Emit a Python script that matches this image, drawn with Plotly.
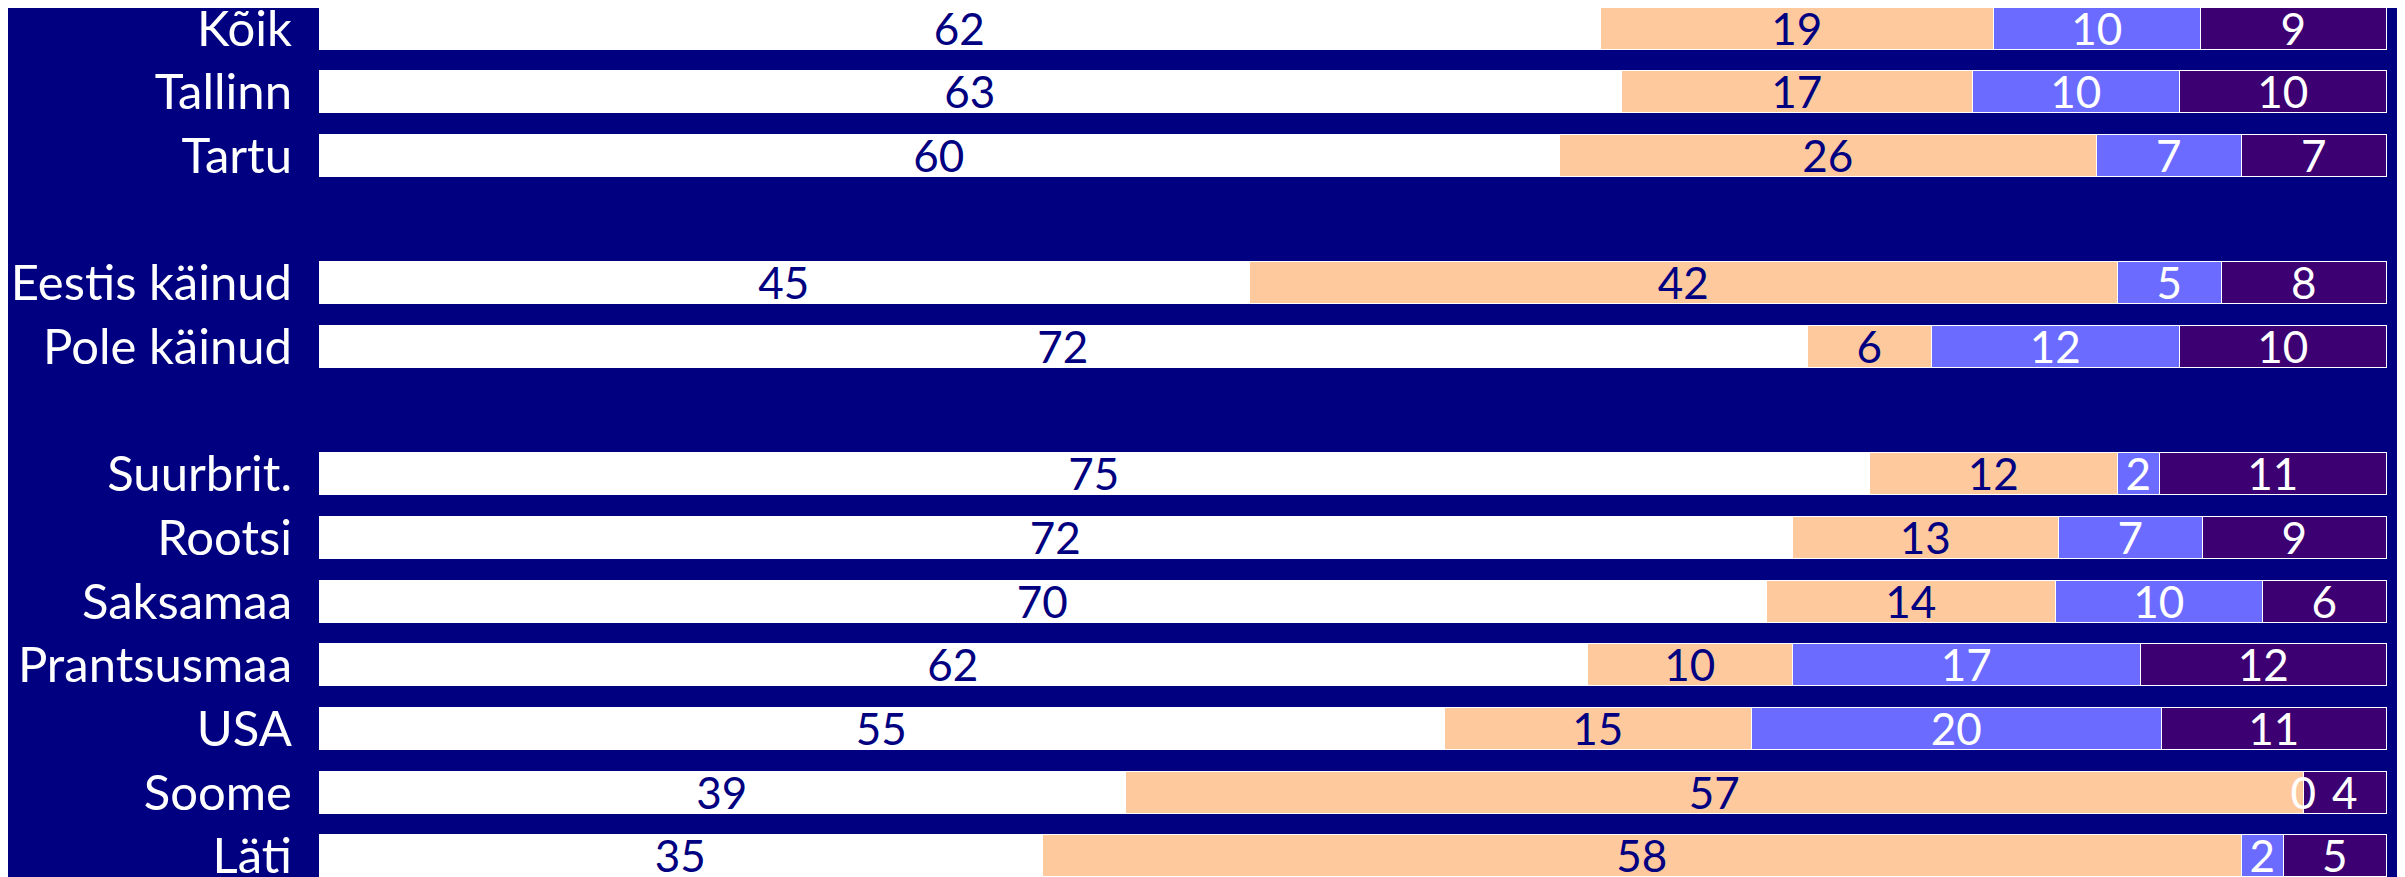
import plotly.graph_objects as go

categories = ["Kõik", "Tallinn", "Tartu", " ", "Eestis käinud", "Pole käinud", "  ",
              "Suurbrit.", "Rootsi", "Saksamaa", "Prantsusmaa", "USA", "Soome", "Läti"]
bar_categories = ["Kõik", "Tallinn", "Tartu", "Eestis käinud", "Pole käinud",
                  "Suurbrit.", "Rootsi", "Saksamaa", "Prantsusmaa", "USA", "Soome", "Läti"]
series1 = [62, 63, 60, 45, 72, 75, 72, 70, 62, 55, 39, 35]
series2 = [19, 17, 26, 42, 6, 12, 13, 14, 10, 15, 57, 58]
series3 = [10, 10, 7, 5, 12, 2, 7, 10, 17, 20, 0, 2]
series4 = [9, 10, 7, 8, 10, 11, 9, 6, 12, 11, 4, 5]

BG = "#000080"
colors = ["#FFFFFF", "#FFC99E", "#6B6BFF", "#3D0073"]
text_colors = [BG, BG, "#FFFFFF", "#FFFFFF"]
zorders = [0, 0, 1, 0]

fig = go.Figure()
for vals, col, tcol, z in zip([series1, series2, series3, series4], colors, text_colors, zorders):
    fig.add_trace(go.Bar(
        y=bar_categories, x=vals, orientation="h",
        marker=dict(color=col, line=dict(color="#FFFFFF", width=1.5)),
        width=0.66, zorder=z,
        text=[str(v) for v in vals],
        textposition=["inside" if v > 0 else "outside" for v in vals],
        insidetextanchor="middle", textangle=0, constraintext="none",
        textfont=dict(color=tcol, size=44, family="Lato"),
        outsidetextfont=dict(color=tcol, size=44, family="Lato"),
        cliponaxis=False, showlegend=False, hoverinfo="skip",
    ))

fig.update_layout(
    barmode="stack", barnorm="percent",
    width=2389, height=869,
    paper_bgcolor=BG, plot_bgcolor=BG,
    margin=dict(l=311, r=10, t=0, b=0, autoexpand=False),
    uniformtext=dict(minsize=44, mode="show"),
    bargap=0,
)
fig.update_xaxes(range=[0, 100], visible=False, showgrid=False, zeroline=False,
                 automargin=False)
fig.update_yaxes(
    type="category", categoryorder="array", categoryarray=categories,
    range=[13.326, -0.322], showgrid=False, zeroline=False, showline=False,
    ticks="", ticklabelstandoff=26, automargin=False,
    tickfont=dict(color="#FFFFFF", size=49, family="Lato"),
)

fig.write_html("out.html")
